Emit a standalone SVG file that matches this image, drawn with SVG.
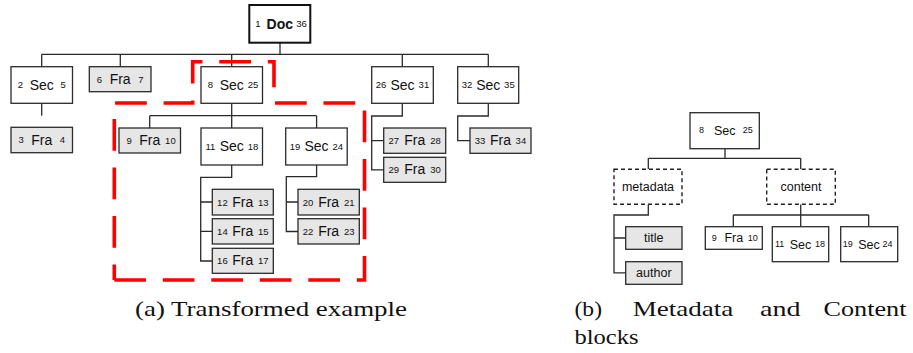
<svg xmlns="http://www.w3.org/2000/svg" width="913" height="353" viewBox="0 0 913 353">
  <style>
    .box { fill: #ffffff; stroke: #2b2b2b; stroke-width: 1.3; }
    .frag { fill: #e6e6e6; stroke: #2b2b2b; stroke-width: 1.3; }
    .root { fill: #ffffff; stroke: #111111; stroke-width: 2; }
    .block { fill: #ffffff; stroke: #222222; stroke-width: 1.4; stroke-dasharray: 4 3; }
    .edge { fill: none; stroke: #2a2a2a; stroke-width: 1.3; }
    .word { font-family: "Liberation Sans", Arial, sans-serif; font-size: 14px; fill: #111111; text-anchor: middle; }
    .num { font-family: "Liberation Sans", Arial, sans-serif; font-size: 9.5px; fill: #111111; text-anchor: middle; }
    .wordR { font-family: "Liberation Sans", Arial, sans-serif; font-size: 12.5px; fill: #111111; text-anchor: middle; }
    .numR { font-family: "Liberation Sans", Arial, sans-serif; font-size: 9px; fill: #111111; text-anchor: middle; }
    .bold { font-weight: bold; }
    .cap { font-family: "Liberation Serif", "Times New Roman", serif; font-size: 21.5px; fill: #111111; }
    .hl { fill: none; stroke: #ff0000; stroke-width: 3.6; stroke-dasharray: 31.7 16.8; }
  </style>

  <!-- connectors -->
  <g id="connectors">
    <!-- left tree -->
    <path class="edge" d="M280,42.7 V54.3 M41.7,54.3 H488.3 M41.7,54.3 V66.7 M120.3,54.3 V66.7 M231.7,54.3 V66.7 M402.3,54.3 V66.7 M488.3,54.3 V66.7"/>
    <path class="edge" d="M41.7,103.3 V115.7"/>
    <path class="edge" d="M231.7,103.3 V115.7 M149.7,115.7 H316.6 M149.7,115.7 V128 M231.7,115.7 V128 M316.6,115.7 V128"/>
    <path class="edge" d="M231.7,165 V177.3 H200.7 V261 H212.3 M200.7,202 H212.3 M200.7,231.3 H212.3"/>
    <path class="edge" d="M316.6,165 V176.7 H286.3 V231.5 H298 M286.3,202 H298"/>
    <path class="edge" d="M402.3,103.3 V116 H371.7 V169.8 H383.7 M371.7,140.7 H383.7"/>
    <path class="edge" d="M488.3,103.3 V116 H457.7 V140.7 H470"/>
    <!-- right tree -->
    <path class="edge" d="M725,148.7 V158.3 M648.3,158.3 H800.7 M648.3,158.3 V169.3 M800.7,158.3 V169.3"/>
    <path class="edge" d="M648.3,204.3 V215 H614 V272.8 H625.7 M614,238 H625.7"/>
    <path class="edge" d="M800.7,204.3 V215 M733.3,215 H868.7 M733.3,215 V226.7 M800.7,215 V226.7 M868.7,215 V226.7"/>
  </g>

  <!-- left tree nodes -->
  <g id="n1">
    <rect class="root" x="249.3" y="5" width="61" height="37.7"/>
    <text class="num" x="258" y="27.2">1</text>
    <text class="word bold" x="279.8" y="28.5">Doc</text>
    <text class="num" x="301.6" y="27.2">36</text>
  </g>
  <g id="n2">
    <rect class="box" x="11" y="66.7" width="61.5" height="36.6"/>
    <text class="num" x="20.4" y="88.3">2</text>
    <text class="word" x="41.75" y="89.6">Sec</text>
    <text class="num" x="63.1" y="88.3">5</text>
  </g>
  <g id="n3">
    <rect class="frag" x="11" y="127.3" width="61.5" height="25.4"/>
    <text class="num" x="21.1" y="143.3">3</text>
    <text class="word" x="41.75" y="144.6">Fra</text>
    <text class="num" x="62.4" y="143.3">4</text>
  </g>
  <g id="n6">
    <rect class="frag" x="89.3" y="66.7" width="61.7" height="25"/>
    <text class="num" x="99.4" y="82.5">6</text>
    <text class="word" x="120.15" y="83.8">Fra</text>
    <text class="num" x="140.9" y="82.5">7</text>
  </g>
  <g id="n8">
    <rect class="box" x="201" y="66.7" width="61.5" height="36.6"/>
    <text class="num" x="210.4" y="88.3">8</text>
    <text class="word" x="231.75" y="89.6">Sec</text>
    <text class="num" x="253.1" y="88.3">25</text>
  </g>
  <g id="n9">
    <rect class="frag" x="119" y="128" width="61.5" height="25"/>
    <text class="num" x="129.1" y="143.8">9</text>
    <text class="word" x="149.75" y="145.1">Fra</text>
    <text class="num" x="170.4" y="143.8">10</text>
  </g>
  <g id="n11">
    <rect class="box" x="201" y="128" width="61.5" height="37"/>
    <text class="num" x="210.4" y="149.8">11</text>
    <text class="word" x="231.75" y="151.1">Sec</text>
    <text class="num" x="253.1" y="149.8">18</text>
  </g>
  <g id="n12">
    <rect class="frag" x="212.3" y="189.3" width="61" height="25.7"/>
    <text class="num" x="222.4" y="205.5">12</text>
    <text class="word" x="242.8" y="206.8">Fra</text>
    <text class="num" x="263.2" y="205.5">13</text>
  </g>
  <g id="n14">
    <rect class="frag" x="212.3" y="218.7" width="61" height="25.3"/>
    <text class="num" x="222.4" y="234.7">14</text>
    <text class="word" x="242.8" y="236">Fra</text>
    <text class="num" x="263.2" y="234.7">15</text>
  </g>
  <g id="n16">
    <rect class="frag" x="212.3" y="248.3" width="61" height="25"/>
    <text class="num" x="222.4" y="264.1">16</text>
    <text class="word" x="242.8" y="265.4">Fra</text>
    <text class="num" x="263.2" y="264.1">17</text>
  </g>
  <g id="n19">
    <rect class="box" x="285.7" y="128" width="61.5" height="37"/>
    <text class="num" x="295.1" y="149.8">19</text>
    <text class="word" x="316.45" y="151.1">Sec</text>
    <text class="num" x="337.8" y="149.8">24</text>
  </g>
  <g id="n20">
    <rect class="frag" x="298" y="189.3" width="61.3" height="25.7"/>
    <text class="num" x="308.1" y="205.5">20</text>
    <text class="word" x="328.65" y="206.8">Fra</text>
    <text class="num" x="349.2" y="205.5">21</text>
  </g>
  <g id="n22">
    <rect class="frag" x="298" y="218.7" width="61.3" height="25.3"/>
    <text class="num" x="308.1" y="234.7">22</text>
    <text class="word" x="328.65" y="236">Fra</text>
    <text class="num" x="349.2" y="234.7">23</text>
  </g>
  <g id="n26">
    <rect class="box" x="371.7" y="66.7" width="61.6" height="36.6"/>
    <text class="num" x="381.1" y="88.3">26</text>
    <text class="word" x="402.5" y="89.6">Sec</text>
    <text class="num" x="423.9" y="88.3">31</text>
  </g>
  <g id="n27">
    <rect class="frag" x="383.7" y="128" width="62" height="25.3"/>
    <text class="num" x="393.8" y="144">27</text>
    <text class="word" x="414.7" y="145.3">Fra</text>
    <text class="num" x="435.6" y="144">28</text>
  </g>
  <g id="n29">
    <rect class="frag" x="383.7" y="157.3" width="62" height="25"/>
    <text class="num" x="393.8" y="173.1">29</text>
    <text class="word" x="414.7" y="174.4">Fra</text>
    <text class="num" x="435.6" y="173.1">30</text>
  </g>
  <g id="n32">
    <rect class="box" x="457.7" y="66.7" width="61" height="36.6"/>
    <text class="num" x="467" y="88.3">32</text>
    <text class="word" x="488.2" y="89.6">Sec</text>
    <text class="num" x="509.4" y="88.3">35</text>
  </g>
  <g id="n33">
    <rect class="frag" x="470" y="128" width="61" height="25.3"/>
    <text class="num" x="480.1" y="144">33</text>
    <text class="word" x="500.5" y="145.3">Fra</text>
    <text class="num" x="520.9" y="144">34</text>
  </g>

  <!-- highlighted subtree outline -->
  <path id="highlight" class="hl" d="M114.3,280 H364.5 V103 H274 V61.7 H192.7 V103 H114.3 V280"/>

  <!-- right tree nodes -->
  <g id="r8">
    <rect class="box" x="690" y="112.7" width="69.3" height="36"/>
    <text class="numR" x="701.6" y="133.2">8</text>
    <text class="wordR" x="724.65" y="134.6">Sec</text>
    <text class="numR" x="747.8" y="133.2">25</text>
  </g>
  <g id="metadata">
    <rect class="block" x="614" y="169.3" width="68" height="35"/>
    <text class="wordR" x="648" y="191">metadata</text>
  </g>
  <g id="content">
    <rect class="block" x="766.7" y="169.3" width="68.6" height="35"/>
    <text class="wordR" x="801" y="191">content</text>
  </g>
  <g id="title">
    <rect class="frag" x="625.7" y="226.7" width="56.3" height="22.6"/>
    <text class="wordR" x="653.85" y="242.2">title</text>
  </g>
  <g id="author">
    <rect class="frag" x="625.7" y="261.7" width="56.3" height="22.6"/>
    <text class="wordR" x="653.85" y="277.2">author</text>
  </g>
  <g id="r9">
    <rect class="box" x="705.3" y="226.7" width="57" height="22.6"/>
    <text class="numR" x="714.2" y="240.8">9</text>
    <text class="wordR" x="733.8" y="242.2">Fra</text>
    <text class="numR" x="752.7" y="240.8">10</text>
  </g>
  <g id="r11">
    <rect class="box" x="772.3" y="226.7" width="56.4" height="35"/>
    <text class="numR" x="779.6" y="247.4">11</text>
    <text class="wordR" x="800.5" y="248.6">Sec</text>
    <text class="numR" x="820" y="247.4">18</text>
  </g>
  <g id="r19">
    <rect class="box" x="840.7" y="226.7" width="57" height="35"/>
    <text class="numR" x="847.8" y="247.4">19</text>
    <text class="wordR" x="869" y="248.6">Sec</text>
    <text class="numR" x="887.5" y="247.4">24</text>
  </g>

  <!-- captions -->
  <g id="captions">
    <text class="cap" x="135" y="316" textLength="272" lengthAdjust="spacingAndGlyphs">(a) Transformed example</text>
    <text class="cap" x="574.5" y="316" textLength="27.5" lengthAdjust="spacingAndGlyphs">(b)</text>
    <text class="cap" x="632.7" y="316" textLength="100.6" lengthAdjust="spacingAndGlyphs">Metadata</text>
    <text class="cap" x="760" y="316" textLength="40.5" lengthAdjust="spacingAndGlyphs">and</text>
    <text class="cap" x="823.5" y="316" textLength="83" lengthAdjust="spacingAndGlyphs">Content</text>
    <text class="cap" x="574.5" y="343.5" textLength="64" lengthAdjust="spacingAndGlyphs">blocks</text>
  </g>
</svg>
